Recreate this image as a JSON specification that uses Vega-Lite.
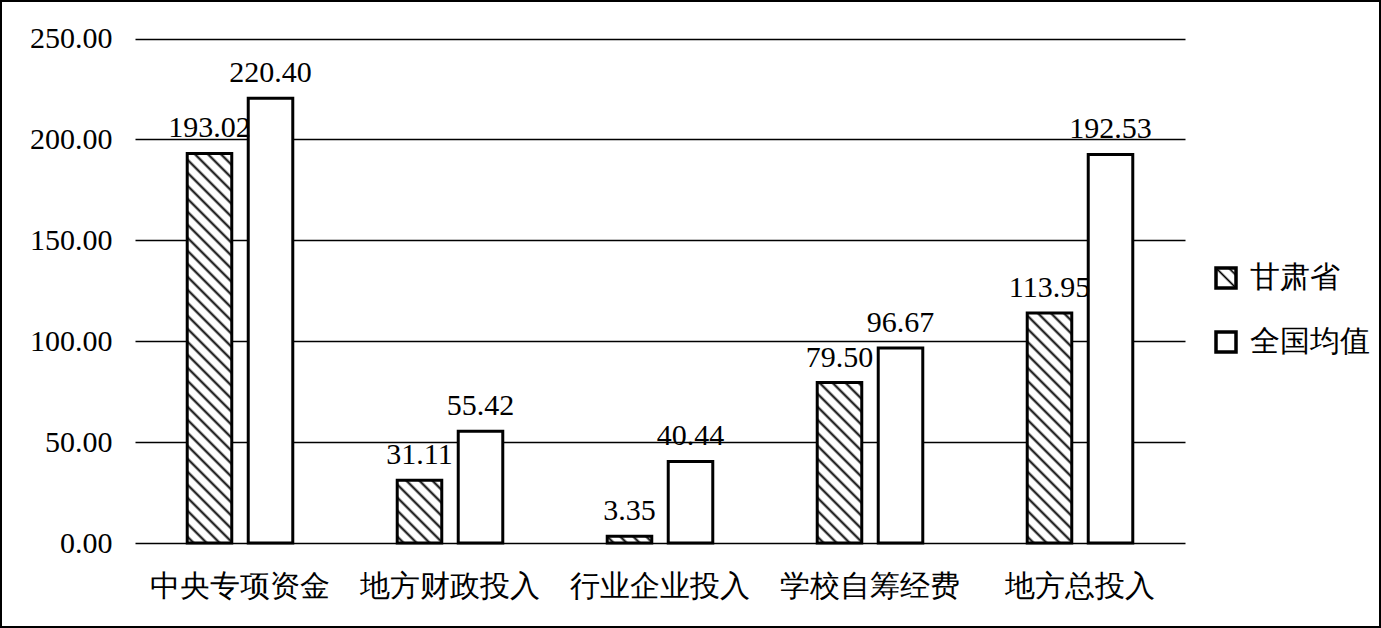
{
  "$schema": "https://vega.github.io/schema/vega-lite/v6.json",
  "width": 1381,
  "height": 628,
  "autosize": {"type": "none"},
  "padding": 0,
  "background": "white",
  "config": {
    "view": {"stroke": "black", "strokeWidth": 4},
    "font": "Liberation Serif"
  },
  "data": {
    "values": [
      {"category": "中央专项资金", "series": "甘肃省", "value": 193.02},
      {"category": "中央专项资金", "series": "全国均值", "value": 220.40},
      {"category": "地方财政投入", "series": "甘肃省", "value": 31.11},
      {"category": "地方财政投入", "series": "全国均值", "value": 55.42},
      {"category": "行业企业投入", "series": "甘肃省", "value": 3.35},
      {"category": "行业企业投入", "series": "全国均值", "value": 40.44},
      {"category": "学校自筹经费", "series": "甘肃省", "value": 79.50},
      {"category": "学校自筹经费", "series": "全国均值", "value": 96.67},
      {"category": "地方总投入", "series": "甘肃省", "value": 113.95},
      {"category": "地方总投入", "series": "全国均值", "value": 192.53}
    ]
  },
  "encoding": {
    "x": {
      "field": "category",
      "type": "nominal",
      "sort": ["中央专项资金", "地方财政投入", "行业企业投入", "学校自筹经费", "地方总投入"],
      "scale": {"range": [135, 1185], "paddingInner": 0, "paddingOuter": 0},
      "axis": {
        "orient": "bottom",
        "offset": -85,
        "domain": false,
        "ticks": false,
        "grid": false,
        "labelAngle": 0,
        "labelFontSize": 30,
        "labelFont": "Liberation Serif",
        "labelColor": "black",
        "labelPadding": 28,
        "labelLimit": 0,
        "title": null
      }
    },
    "xOffset": {
      "field": "series",
      "type": "nominal",
      "sort": ["甘肃省", "全国均值"],
      "scale": {"paddingInner": 0.27, "paddingOuter": 0.856}
    },
    "y": {
      "field": "value",
      "type": "quantitative",
      "scale": {"domain": [0, 250], "range": [543, 38.5], "nice": false, "zero": true},
      "axis": {
        "values": [0, 50, 100, 150, 200, 250],
        "format": ".2f",
        "offset": -135,
        "domain": false,
        "ticks": false,
        "grid": true,
        "gridColor": "black",
        "gridWidth": 1.3,
        "gridOpacity": 1,
        "labelFontSize": 30,
        "labelFont": "Liberation Serif",
        "labelColor": "black",
        "labelPadding": 23,
        "title": null
      }
    }
  },
  "layer": [
    {
      "mark": {"type": "bar", "strokeWidth": 3},
      "encoding": {
        "stroke": {
          "field": "series",
          "type": "nominal",
          "scale": {"domain": ["甘肃省", "全国均值"], "range": ["black", "black"]},
          "legend": {
            "orient": "none",
            "legendX": 1211,
            "legendY": 263,
            "title": null,
            "symbolType": "square",
            "symbolSize": 400,
            "symbolStrokeWidth": 3.5,
            "labelFontSize": 30,
            "labelFont": "Liberation Serif",
            "labelColor": "black",
            "labelOffset": 9,
            "rowPadding": 30,
            "labelLimit": 0
          }
        },
        "fill": {
          "value": {
            "expr": "datum.series === '甘肃省' ? {gradient: 'linear', x1: 0, y1: 1, x2: bandwidth('xOffset')*520/(pow(bandwidth('xOffset'),2)+pow(scale('y',0)-scale('y',datum.value),2)), y2: 1-(scale('y',0)-scale('y',datum.value))*520/(pow(bandwidth('xOffset'),2)+pow(scale('y',0)-scale('y',datum.value),2)), stops: [{offset:0.007,color:'#fff'},{offset:0.0125,color:'#000'},{offset:0.018,color:'#fff'},{offset:0.032,color:'#fff'},{offset:0.0375,color:'#000'},{offset:0.043,color:'#fff'},{offset:0.057,color:'#fff'},{offset:0.0625,color:'#000'},{offset:0.068,color:'#fff'},{offset:0.082,color:'#fff'},{offset:0.0875,color:'#000'},{offset:0.093,color:'#fff'},{offset:0.107,color:'#fff'},{offset:0.1125,color:'#000'},{offset:0.118,color:'#fff'},{offset:0.132,color:'#fff'},{offset:0.1375,color:'#000'},{offset:0.143,color:'#fff'},{offset:0.157,color:'#fff'},{offset:0.1625,color:'#000'},{offset:0.168,color:'#fff'},{offset:0.182,color:'#fff'},{offset:0.1875,color:'#000'},{offset:0.193,color:'#fff'},{offset:0.207,color:'#fff'},{offset:0.2125,color:'#000'},{offset:0.218,color:'#fff'},{offset:0.232,color:'#fff'},{offset:0.2375,color:'#000'},{offset:0.243,color:'#fff'},{offset:0.257,color:'#fff'},{offset:0.2625,color:'#000'},{offset:0.268,color:'#fff'},{offset:0.282,color:'#fff'},{offset:0.2875,color:'#000'},{offset:0.293,color:'#fff'},{offset:0.307,color:'#fff'},{offset:0.3125,color:'#000'},{offset:0.318,color:'#fff'},{offset:0.332,color:'#fff'},{offset:0.3375,color:'#000'},{offset:0.343,color:'#fff'},{offset:0.357,color:'#fff'},{offset:0.3625,color:'#000'},{offset:0.368,color:'#fff'},{offset:0.382,color:'#fff'},{offset:0.3875,color:'#000'},{offset:0.393,color:'#fff'},{offset:0.407,color:'#fff'},{offset:0.4125,color:'#000'},{offset:0.418,color:'#fff'},{offset:0.432,color:'#fff'},{offset:0.4375,color:'#000'},{offset:0.443,color:'#fff'},{offset:0.457,color:'#fff'},{offset:0.4625,color:'#000'},{offset:0.468,color:'#fff'},{offset:0.482,color:'#fff'},{offset:0.4875,color:'#000'},{offset:0.493,color:'#fff'},{offset:0.507,color:'#fff'},{offset:0.5125,color:'#000'},{offset:0.518,color:'#fff'},{offset:0.532,color:'#fff'},{offset:0.5375,color:'#000'},{offset:0.543,color:'#fff'},{offset:0.557,color:'#fff'},{offset:0.5625,color:'#000'},{offset:0.568,color:'#fff'},{offset:0.582,color:'#fff'},{offset:0.5875,color:'#000'},{offset:0.593,color:'#fff'},{offset:0.607,color:'#fff'},{offset:0.6125,color:'#000'},{offset:0.618,color:'#fff'},{offset:0.632,color:'#fff'},{offset:0.6375,color:'#000'},{offset:0.643,color:'#fff'},{offset:0.657,color:'#fff'},{offset:0.6625,color:'#000'},{offset:0.668,color:'#fff'},{offset:0.682,color:'#fff'},{offset:0.6875,color:'#000'},{offset:0.693,color:'#fff'},{offset:0.707,color:'#fff'},{offset:0.7125,color:'#000'},{offset:0.718,color:'#fff'},{offset:0.732,color:'#fff'},{offset:0.7375,color:'#000'},{offset:0.743,color:'#fff'},{offset:0.757,color:'#fff'},{offset:0.7625,color:'#000'},{offset:0.768,color:'#fff'},{offset:0.782,color:'#fff'},{offset:0.7875,color:'#000'},{offset:0.793,color:'#fff'},{offset:0.807,color:'#fff'},{offset:0.8125,color:'#000'},{offset:0.818,color:'#fff'},{offset:0.832,color:'#fff'},{offset:0.8375,color:'#000'},{offset:0.843,color:'#fff'}]} : (datum.value === '甘肃省' ? {gradient: 'linear', x1: 0, y1: 1, x2: 1, y2: 0, stops: [{offset:0.44,color:'#fff'},{offset:0.5,color:'#000'},{offset:0.56,color:'#fff'},{offset:0.76,color:'#fff'},{offset:0.82,color:'#000'},{offset:0.88,color:'#fff'}]} : 'white')"
          }
        }
      }
    },
    {
      "mark": {
        "type": "text",
        "baseline": "alphabetic",
        "align": "center",
        "dy": -16,
        "fontSize": 30,
        "font": "Liberation Serif",
        "color": "black"
      },
      "encoding": {
        "text": {"field": "value", "type": "quantitative", "format": ".2f"}
      }
    }
  ]
}
